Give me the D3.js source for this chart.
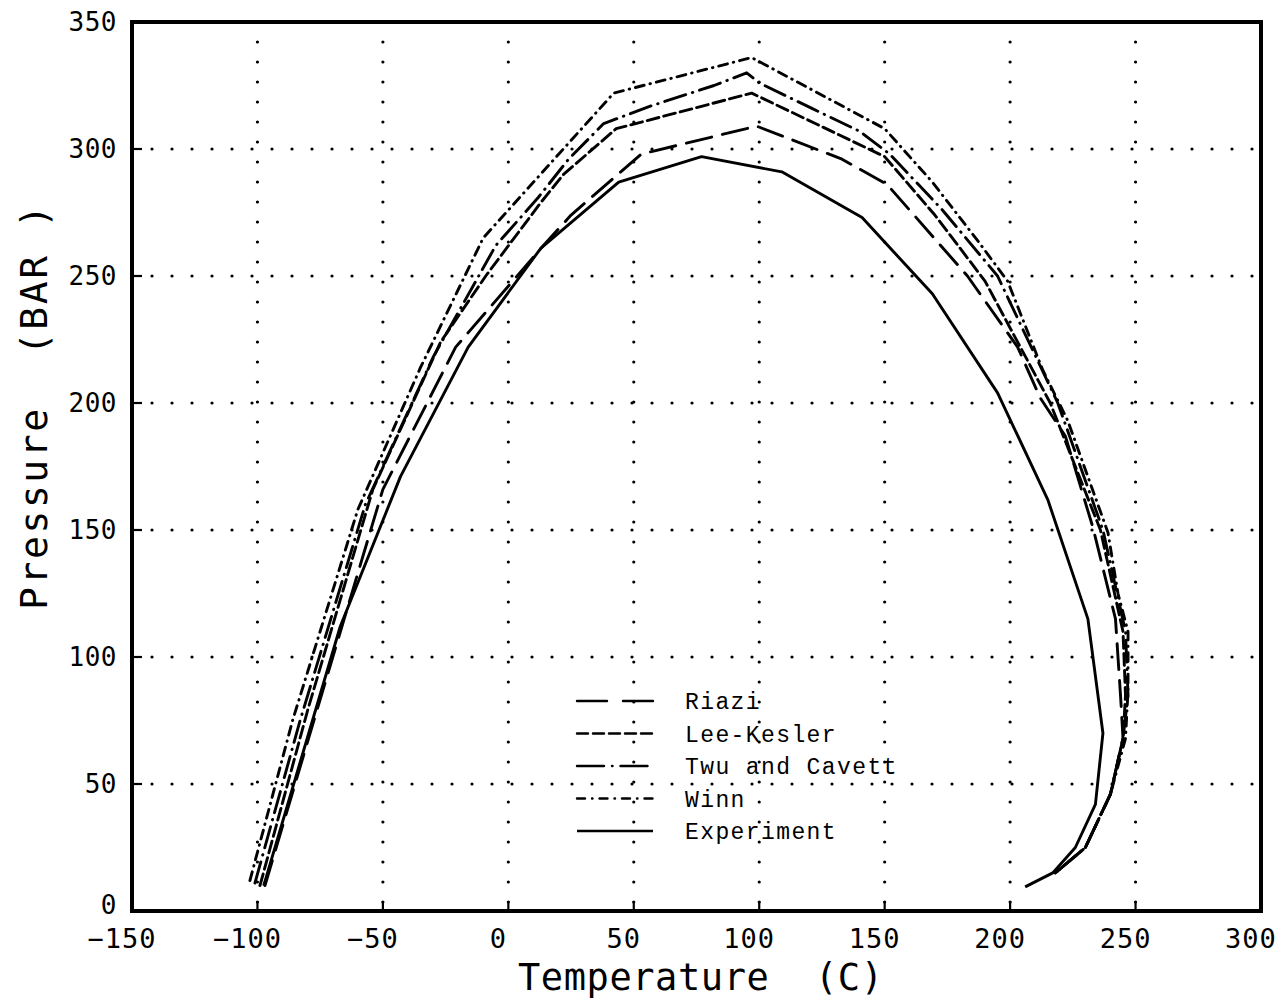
<!DOCTYPE html>
<html>
<head>
<meta charset="utf-8">
<script src="https://cdn.jsdelivr.net/npm/d3@7"></script>
<style>
    body { margin: 0; background: #fff; }
    svg { display: block; }
</style>
</head>
<body>
<div id="chart"></div>
<script>
// values: [temperature (C), pressure (bar)]
const experiment = [[-97.5,10],[-67,112],[-43,171],[-16,222],[13,261],[44,287],[77,297],[109,291],[141,273],[169,243],[195,204],[215,162],[231,115],[237,70],[234,42],[226,25],[217,15],[206,9.5]];
const riazi = [[-97,10],[-76,80],[-50,166],[-21,222],[14,262],[25,274],[53,298],[99,309],[133,296],[151,286],[183,250],[203,222],[212,202],[222,187],[233,151],[242,115],[244,85],[245,68],[240,46],[230,25],[218,15]];
const leeKesler = [[-99,10],[-80,79],[-54,166],[-27,224],[-9,250],[13,279],[22,290],[43,308],[97,322],[150,297],[170,274],[190,248],[216,200],[236,150],[245,110],[246,85],[245,68],[240,46],[230,25],[218,15]];
const twuCavett = [[-101,11],[-83,75],[-57,160],[-30,218],[-5,262],[12,281],[24,296],[38,310],[57,317],[82,325],[95,330],[100,326],[121,316],[140,307],[152,298],[173,276],[195,250],[219,200],[237,150],[246,110],[247,85],[245,68],[240,46],[230,25],[218,15]];
const winn = [[-103,12],[-86,75],[-60,158],[-35,214],[-10,265],[42,322],[97,336],[150,308],[169,287],[187,264],[199,248],[213,213],[223,193],[239,149],[243,125],[247,110],[247,87],[246,68],[240,46],[230,25],[218,15]];

const seriesNames = ['Riazi', 'Lee-Kesler', 'Twu and Cavett', 'Winn', 'Experiment'];
const seriesData = [riazi, leeKesler, twuCavett, winn, experiment];

const xTicks = [-150, -100, -50, 0, 50, 100, 150, 200, 250, 300];
const yTicks = [0, 50, 100, 150, 200, 250, 300, 350];

// line styles, same order as seriesNames
const dashes = ['26 11', '12 5', '22 7 0.5 7', '9 6 0.5 6', null];
const legendDashes = ['30 16', '11 5', '27 8 0.5 8', '8 7 0.5 7', null];

// layout
const width = 1288;
const height = 1002;
const margin = {t:22, r:27, b:91, l:132};
const w = width - margin.l - margin.r;
const h = height - margin.t - margin.b;

const svg = d3.select('#chart')
    .append('svg')
    .attr('width', width)
    .attr('height', height);

const plot = svg.append('g')
    .attr('transform', `translate(${margin.l},${margin.t})`);

// scales
const scaleX = d3.scaleLinear().domain([-150, 300]).range([0, w]);
const scaleY = d3.scaleLinear().domain([0, 350]).range([h, 0]);

// dotted grid
plot.selectAll('.grid-x')
    .data(xTicks.slice(1, -1))
    .enter()
    .append('line')
    .attr('class', 'grid-x')
    .attr('x1', d => scaleX(d)).attr('x2', d => scaleX(d))
    .attr('y1', 0).attr('y2', h);

plot.selectAll('.grid-y')
    .data(yTicks.slice(1, -1))
    .enter()
    .append('line')
    .attr('class', 'grid-y')
    .attr('y1', d => scaleY(d)).attr('y2', d => scaleY(d))
    .attr('x1', 0).attr('x2', w);

plot.selectAll('.grid-x, .grid-y')
    .attr('stroke', '#000')
    .attr('stroke-width', 3.2)
    .attr('stroke-linecap', 'round')
    .attr('stroke-dasharray', '0 20');

// small inward ticks
plot.selectAll('.tick-x')
    .data(xTicks.slice(1, -1))
    .enter()
    .append('line')
    .attr('x1', d => scaleX(d)).attr('x2', d => scaleX(d))
    .attr('y1', h).attr('y2', h - 10)
    .attr('stroke', '#000').attr('stroke-width', 2.2);

plot.selectAll('.tick-y')
    .data(yTicks.slice(1, -1))
    .enter()
    .append('line')
    .attr('y1', d => scaleY(d)).attr('y2', d => scaleY(d))
    .attr('x1', 0).attr('x2', 10)
    .attr('stroke', '#000').attr('stroke-width', 2.2);

// curves
const line = d3.line()
    .x(d => scaleX(d[0]))
    .y(d => scaleY(d[1]));

plot.selectAll('.curve')
    .data(seriesData)
    .enter()
    .append('path')
    .attr('class', 'curve')
    .attr('d', line)
    .attr('fill', 'none')
    .attr('stroke', '#000')
    .attr('stroke-width', 2.9)
    .attr('stroke-linejoin', 'round')
    .attr('stroke-linecap', (d, i) => dashes[i] ? 'round' : 'butt')
    .attr('stroke-dasharray', (d, i) => dashes[i]);

// frame
plot.append('rect')
    .attr('width', w)
    .attr('height', h)
    .attr('fill', 'none')
    .attr('stroke', '#000')
    .attr('stroke-width', 4);

// tick labels
const tickFont = '"DejaVu Sans Mono", monospace';

svg.selectAll('.label-x')
    .data(xTicks)
    .enter()
    .append('text')
    .attr('x', d => margin.l + scaleX(d) - 10)
    .attr('y', 948)
    .attr('text-anchor', 'middle')
    .attr('font-family', tickFont)
    .attr('font-size', 27)
    .attr('letter-spacing', 1)
    .text(d => d < 0 ? '\u2212' + Math.abs(d) : d);

svg.selectAll('.label-y')
    .data(yTicks)
    .enter()
    .append('text')
    .attr('x', 117)
    // the 0 label sits a little higher so it clears the -150 below it
    .attr('y', d => margin.t + scaleY(d) - (d === 0 ? 6 : 0))
    .attr('dy', '0.36em')
    .attr('text-anchor', 'end')
    .attr('font-family', tickFont)
    .attr('font-size', 26)
    .attr('letter-spacing', 0.5)
    .text(d => d);

// axis titles
svg.append('text')
    .attr('x', 518)
    .attr('y', 990)
    .attr('font-family', tickFont)
    .attr('font-size', 37)
    .attr('textLength', 365)
    .attr('lengthAdjust', 'spacing')
    .style('white-space', 'pre')
    .text('Temperature  (C)');

svg.append('text')
    .attr('transform', 'translate(47,610) rotate(-90)')
    .attr('font-family', tickFont)
    .attr('font-size', 38)
    .attr('textLength', 405)
    .attr('lengthAdjust', 'spacing')
    .style('white-space', 'pre')
    .text('Pressure  (BAR )');

// legend
const legend = svg.append('g')
    .attr('transform', 'translate(577,701)');

const legendRow = legend.selectAll('.legend-row')
    .data(seriesNames)
    .enter()
    .append('g')
    .attr('transform', (d, i) => `translate(0,${i * 32.5})`);

legendRow.append('line')
    .attr('x1', 0).attr('x2', 76)
    .attr('stroke', '#000')
    .attr('stroke-width', 2.4)
    .attr('stroke-linecap', (d, i) => dashes[i] ? 'round' : 'butt')
    .attr('stroke-dasharray', (d, i) => legendDashes[i]);

legendRow.append('text')
    .attr('x', 108)
    .attr('y', 8)
    .attr('font-family', '"Liberation Mono", monospace')
    .attr('font-size', 23)
    .attr('letter-spacing', 1.4)
    .text(d => d);
</script>
</body>
</html>
